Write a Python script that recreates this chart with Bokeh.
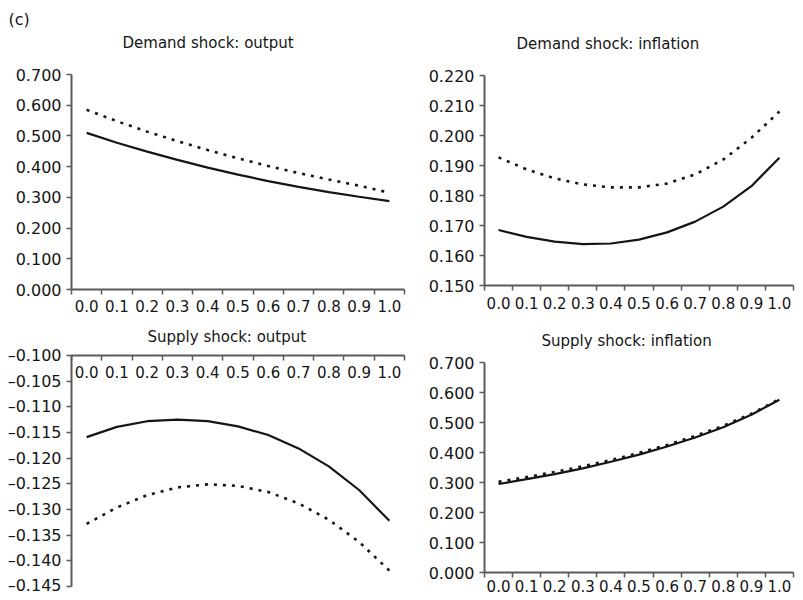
from bokeh.plotting import figure
from bokeh.models import FixedTicker, Range1d, Title
from bokeh.layouts import column, row
from bokeh.embed import file_html
from bokeh.resources import INLINE

# ---- data ----
x_vals = [0.0, 0.1, 0.2, 0.3, 0.4, 0.5, 0.6, 0.7, 0.8, 0.9, 1.0]
x_labels = ["0.0", "0.1", "0.2", "0.3", "0.4", "0.5", "0.6", "0.7", "0.8", "0.9", "1.0"]

demand_output_solid = [0.510, 0.478, 0.449, 0.422, 0.397, 0.374, 0.353, 0.334, 0.317, 0.302, 0.288]
demand_output_dotted = [0.585, 0.548, 0.514, 0.483, 0.454, 0.427, 0.402, 0.379, 0.358, 0.338, 0.315]

demand_infl_solid = [0.1685, 0.1662, 0.1646, 0.1638, 0.1640, 0.1653, 0.1677, 0.1713, 0.1763, 0.1831, 0.1926]
demand_infl_dotted = [0.1927, 0.1887, 0.1857, 0.1837, 0.1827, 0.1827, 0.1840, 0.1870, 0.1920, 0.1992, 0.2080]

supply_output_solid = [-0.1159, -0.1139, -0.1128, -0.1125, -0.1128, -0.1138, -0.1155, -0.1181, -0.1216, -0.1262, -0.1322]
supply_output_dotted = [-0.1328, -0.1296, -0.1272, -0.1257, -0.1251, -0.1254, -0.1266, -0.1288, -0.1320, -0.1363, -0.1419]

supply_infl_solid = [0.295, 0.311, 0.328, 0.347, 0.369, 0.393, 0.420, 0.450, 0.484, 0.526, 0.576]
supply_infl_dotted = [0.302, 0.318, 0.335, 0.354, 0.375, 0.399, 0.425, 0.455, 0.489, 0.529, 0.578]

ticks_output_demand = [0.0, 0.1, 0.2, 0.3, 0.4, 0.5, 0.6, 0.7]
ticks_infl_demand = [0.15, 0.16, 0.17, 0.18, 0.19, 0.20, 0.21, 0.22]
ticks_output_supply = [-0.145, -0.140, -0.135, -0.130, -0.125, -0.120, -0.115, -0.110, -0.105, -0.100]
ticks_infl_supply = [0.0, 0.1, 0.2, 0.3, 0.4, 0.5, 0.6, 0.7]

panel_tag = "(c)"

FONT = "DejaVu Sans"
FS = "15px"
FSY = "16px"
INK = "#151515"
AXIS = "#5a5a5a"


def fmt(v):
    s = "%.3f" % abs(v)
    return ("\u2013" + s) if v < 0 else s


def panel(title, title_offset, title_standoff, solid, dotted, yticks, width, height,
          bl, br, bt, bb, x_above=False, x_standoff=6, tag=None):
    p = figure(width=width, height=height, output_backend="svg", toolbar_location=None,
               x_range=Range1d(x_vals[0] - 0.05, x_vals[-1] + 0.05),
               y_range=Range1d(yticks[0], yticks[-1]),
               x_axis_location="above" if x_above else "below",
               min_border_left=bl, min_border_right=br, min_border_top=bt, min_border_bottom=bb)
    p.outline_line_color = None
    p.grid.visible = False
    p.background_fill_color = "white"
    p.border_fill_color = "white"

    main = Title(text=title, align="left", offset=title_offset, standoff=title_standoff,
                 text_font=FONT, text_font_size=FS, text_font_style="normal", text_color=INK)
    p.add_layout(main, "above")
    if tag is not None:
        p.title.text = tag
        p.title.align = "left"
        p.title.offset = -63
        p.title.standoff = -39
        p.title.text_font = FONT
        p.title.text_font_size = "16px"
        p.title.text_font_style = "normal"
        p.title.text_color = INK
    else:
        p.title.visible = False

    boundaries = [v - 0.05 for v in x_vals] + [x_vals[-1] + 0.05]
    xa = p.xaxis[0]
    xa.ticker = FixedTicker(ticks=x_vals, minor_ticks=boundaries)
    xa.major_label_overrides = dict(zip(x_vals, x_labels))
    xa.major_tick_out = 0
    xa.major_tick_in = 0
    if x_above:
        xa.minor_tick_out = 0
        xa.minor_tick_in = 5
    else:
        xa.minor_tick_out = 5
        xa.minor_tick_in = 0
    xa.major_label_standoff = x_standoff
    xa.minor_tick_line_color = AXIS
    xa.minor_tick_line_width = 1.5
    xa.axis_line_color = AXIS
    xa.axis_line_width = 2
    xa.major_label_text_font = FONT
    xa.major_label_text_font_size = FS
    xa.major_label_text_color = INK

    ya = p.yaxis[0]
    ya.ticker = FixedTicker(ticks=yticks, minor_ticks=[])
    ya.major_label_overrides = {t: fmt(t) for t in yticks}
    ya.major_tick_out = 5
    ya.major_tick_in = 0
    ya.minor_tick_out = 0
    ya.minor_tick_in = 0
    ya.major_tick_line_color = AXIS
    ya.major_tick_line_width = 1.5
    ya.axis_line_color = AXIS
    ya.axis_line_width = 2
    ya.major_label_standoff = 5
    ya.major_label_text_font = FONT
    ya.major_label_text_font_size = FSY
    ya.major_label_text_color = INK

    p.line(x_vals, solid, line_color=INK, line_width=2.2)
    p.line(x_vals, dotted, line_color=INK, line_width=2.6, line_dash="3 6")
    return p


pa = panel("Demand shock: output", 51, 45, demand_output_solid, demand_output_dotted,
           ticks_output_demand, 408, 316, 71, 4, 74, 27, x_standoff=5, tag=panel_tag)
pc = panel("Supply shock: output", 76, 19, supply_output_solid, supply_output_dotted,
           ticks_output_supply, 408, 278, 71, 4, 38, 8, x_above=True, x_standoff=-22)
pb = panel("Demand shock: inflation", 32, 46, demand_infl_solid, demand_infl_dotted,
           ticks_infl_demand, 387, 316, 76, 2, 75, 31, x_standoff=6)
pd = panel("Supply shock: inflation", 57, 26, supply_infl_solid, supply_infl_dotted,
           ticks_infl_supply, 387, 278, 76, 2, 46, 22, x_standoff=2)

layout = row(column(pa, pc), column(pb, pd))
open("out.html", "w").write(file_html(layout, INLINE))
